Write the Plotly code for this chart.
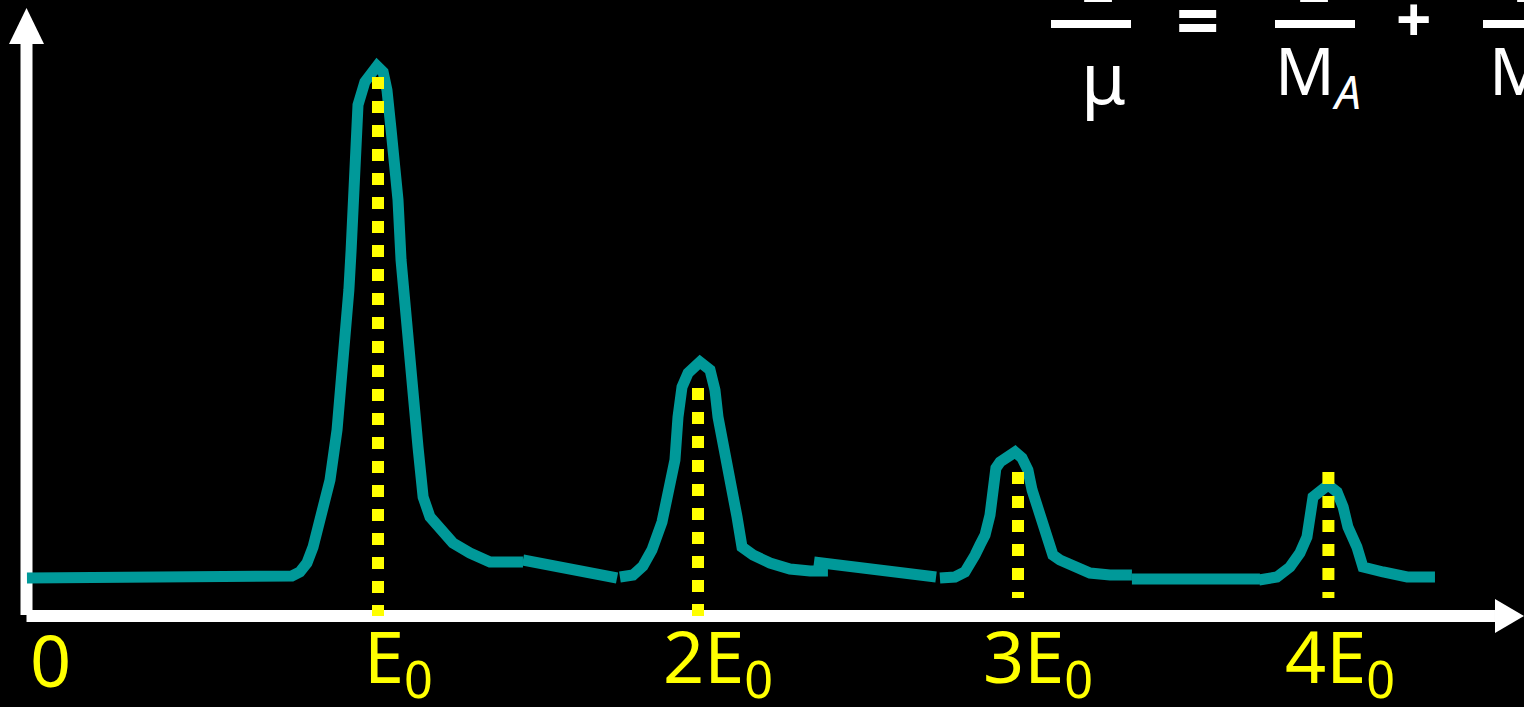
import plotly.graph_objects as go

# ---------------- data (energy in units of E0, intensity in arbitrary units) -------------
seg1_E = [-0.097, 0.694, 0.731, 0.756, 0.778, 0.797, 0.8125, 0.831, 0.85, 0.872, 0.8875, 0.9,
          0.909, 0.916, 0.925, 0.9375, 0.959, 0.981, 0.997, 1.016, 1.028, 1.041, 1.053, 1.0625,
          1.072, 1.081, 1.094, 1.106, 1.125, 1.141, 1.1625, 1.194, 1.234, 1.2875, 1.35, 1.453]
seg1_I = [37, 37, 39, 43, 52, 68, 85, 110, 135, 185, 235, 285,
          325, 365, 465, 510, 533, 545, 549, 543, 525, 485, 450, 415,
          355, 315, 292, 235, 168, 118, 98, 88, 72, 62, 53, 53]
seg2_E = [1.453, 1.747]
seg2_I = [55, 37]
seg3_E = [1.756, 1.797, 1.828, 1.856, 1.8875, 1.9125, 1.928, 1.9375, 1.95, 1.969, 2.006, 2.0375,
          2.053, 2.0625, 2.084, 2.1, 2.122, 2.1375, 2.172, 2.225, 2.2875, 2.35, 2.406]
seg3_I = [38, 40, 49, 65, 93, 130, 155, 198, 228, 242, 253, 245,
          225, 198, 165, 132, 98, 68, 60, 52, 46, 44, 44]
seg4_E = [2.3625, 2.744]
seg4_I = [53, 38]
seg5_E = [2.756, 2.803, 2.834, 2.85, 2.866, 2.881, 2.897, 2.9125, 2.922, 2.931, 2.944, 2.969,
          2.991, 3.0125, 3.031, 3.044, 3.0625, 3.075, 3.094, 3.109, 3.131, 3.178, 3.225, 3.2875,
          3.356]
seg5_I = [37, 38, 43, 50, 60, 70, 80, 100, 125, 147, 153, 160,
          163, 157, 145, 125, 105, 95, 75, 60, 55, 48, 42, 40,
          40]
seg6_E = [3.356, 3.756]
seg6_I = [36, 36]
seg7_E = [3.753, 3.809, 3.85, 3.881, 3.903, 3.9125, 3.922, 3.969, 3.997, 4.016, 4.031, 4.059,
          4.078, 4.141, 4.216, 4.303]
seg7_I = [35, 38, 48, 62, 78, 102, 118, 130, 123, 108, 88, 68,
          48, 43, 38, 38]

peak_E = [1.0, 2.0, 3.0, 3.97]
marker_top = [538, 227, 143, 143]
marker_bottom = [-1, -1, 17, 17]

tick_E = [0, 1, 2, 3, 3.97]
tick_text = ["0", "E<sub>0</sub>", "2E<sub>0</sub>", "3E<sub>0</sub>", "4E<sub>0</sub>"]

# ---------------- figure ----------------
W, H = 1524, 707
TEAL = "#009999"
YEL = "#FFFF00"
FONT = "Comic Sans MS, Noto Sans, sans-serif"

X_RANGE = [-0.18125, 4.58125]
Y_RANGE = [-92, 615]

fig = go.Figure()

segments = [(seg1_E, seg1_I), (seg2_E, seg2_I), (seg3_E, seg3_I), (seg4_E, seg4_I),
            (seg5_E, seg5_I), (seg6_E, seg6_I), (seg7_E, seg7_I)]
for e, i in segments:
    fig.add_trace(go.Scatter(x=e, y=i, mode="lines",
                             line=dict(color=TEAL, width=11), hoverinfo="skip",
                             showlegend=False))

for e, t, b in zip(peak_E, marker_top, marker_bottom):
    fig.add_trace(go.Scatter(x=[e, e], y=[t, b], mode="lines",
                             line=dict(color=YEL, width=12, dash="dot"),
                             hoverinfo="skip", showlegend=False))

# axes with arrows (data coordinates)
x_axis_start = -0.0984
x_axis_end = 4.4906
x_tip = 4.58125
y_axis_end = 571
y_tip = 607
shapes = [
    dict(type="line", xref="x", yref="y", x0=x_axis_start, x1=x_axis_start, y0=0, y1=y_axis_end,
         line=dict(color="white", width=12), layer="below"),
    dict(type="line", xref="x", yref="y", x0=x_axis_start, x1=x_axis_end, y0=-1, y1=-1,
         line=dict(color="white", width=12), layer="below"),
    dict(type="path", xref="x", yref="y",
         path=f"M {x_axis_start-0.0547},{y_axis_end} L {x_axis_start},{y_tip} L {x_axis_start+0.0547},{y_axis_end} Z",
         fillcolor="white", line=dict(width=0), layer="below"),
    dict(type="path", xref="x", yref="y",
         path=f"M {x_axis_end},{16} L {x_tip},{-1} L {x_axis_end},{-18} Z",
         fillcolor="white", line=dict(width=0), layer="below"),
]


def px(v):
    return v / W


def py(v):
    return 1 - v / H


# fraction bars of the formula (top right)
for a, b in [(1051, 1131), (1275, 1355), (1483, 1540)]:
    shapes.append(dict(type="line", xref="paper", yref="paper", x0=px(a), x1=px(b),
                       y0=py(24), y1=py(24), line=dict(color="white", width=8)))

annotations = []
label_shift = [-8, 20, 20, 20, 12]
for e, t, s in zip(tick_E, tick_text, label_shift):
    annotations.append(dict(x=e, y=-44, xref="x", yref="y", text=t, showarrow=False,
                            xanchor="center", yanchor="middle", xshift=s,
                            font=dict(family=FONT, size=72, color=YEL)))

formula = [
    ("μ", 1103, 76, 72, FONT),
    ("<b>=</b>", 1197, 17, 76, FONT),
    ("<b>+</b>", 1413, 18, 62, FONT),
    ("M<sub><i>A</i></sub>", 1318, 73, 66, FONT),
    ("M<sub><i>B</i></sub>", 1533, 73, 66, FONT),
    ("1", 1097, -20, 66, "DejaVu Sans"),
    ("1", 1313, -20, 66, "DejaVu Sans"),
    ("1", 1530, -20, 66, "DejaVu Sans"),
]
for t, x, y, s, f in formula:
    annotations.append(dict(x=px(x), y=py(y), xref="paper", yref="paper", text=t,
                            showarrow=False, xanchor="center", yanchor="middle",
                            font=dict(family=f, size=s, color="white")))

fig.update_layout(
    width=W, height=H,
    margin=dict(l=0, r=0, t=0, b=0),
    paper_bgcolor="black", plot_bgcolor="black",
    xaxis=dict(range=X_RANGE, visible=False, fixedrange=True),
    yaxis=dict(range=Y_RANGE, visible=False, fixedrange=True),
    shapes=shapes, annotations=annotations,
    showlegend=False,
)

fig.write_html(
    "out.html",
    config={"displayModeBar": False},
    post_script="document.body.style.margin='0';document.body.style.backgroundColor='black';"
                "document.body.style.overflow='hidden';",
)
